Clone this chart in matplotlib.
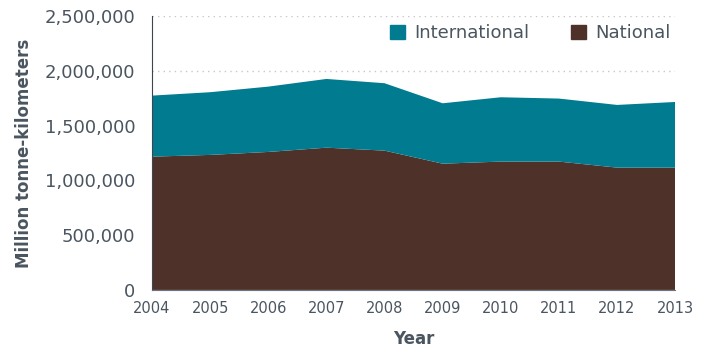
import matplotlib
import matplotlib.pyplot as plt
import matplotlib.ticker as mticker
from matplotlib.patches import Patch

matplotlib.use('agg')

plt.rcParams['font.family'] = ['DejaVu Sans']

years = [2004, 2005, 2006, 2007, 2008, 2009, 2010, 2011, 2012, 2013]
national = [1216000, 1232000, 1259000, 1298000, 1271000, 1152000, 1171000, 1171000, 1116000, 1116000]
international = [557000, 572000, 596000, 627000, 615000, 551000, 587000, 575000, 572000, 599000]

teal = '#007b8f'
brown = '#4e3229'
text_col = '#4a5560'

fig = plt.figure(figsize=(7.07, 3.54), dpi=100)
ax = fig.add_axes([0.215, 0.181, 0.74, 0.774])

ax.stackplot(years, national, international, colors=[brown, teal], linewidth=0)

ax.set_xlim(2004, 2013)
ax.set_ylim(0, 2500000)
ax.set_xticks(years)
ax.set_yticks(range(0, 2500001, 500000))
ax.yaxis.set_major_formatter(mticker.FuncFormatter(lambda v, p: f'{int(v):,}'))
ax.grid(axis='y', linestyle=(0, (1, 3)), color='#c8c8c8', linewidth=1)
ax.set_axisbelow(True)

for s in ['top', 'right']:
    ax.spines[s].set_visible(False)
ax.spines['left'].set_color('#3c4650')
ax.spines['bottom'].set_color('#6a7480')
ax.tick_params(length=0, colors=text_col)
ax.tick_params(axis='y', labelsize=13, pad=12)
ax.tick_params(axis='x', labelsize=10.5, pad=8)

ax.set_ylabel('Million tonne-kilometers', fontsize=12, fontweight='bold', color=text_col, labelpad=8)
ax.set_xlabel('Year', fontsize=12, fontweight='bold', color=text_col, labelpad=10)

handles = [Patch(color=teal, label='International'), Patch(color=brown, label='National')]
ax.legend(handles=handles, loc='upper right', bbox_to_anchor=(1.012, 1.01), ncol=2, frameon=False,
          fontsize=13, labelcolor=text_col, handlelength=0.85, handleheight=0.85,
          handletextpad=0.5, columnspacing=2.3, borderaxespad=0.2)

plt.savefig('out.png', dpi=100)
